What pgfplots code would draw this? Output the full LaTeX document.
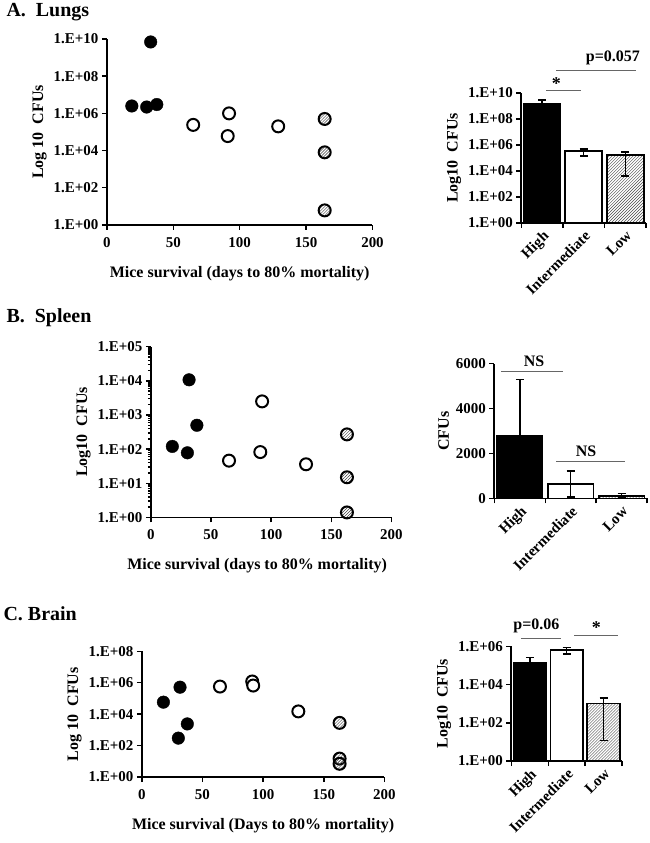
\documentclass[border=0pt]{standalone}
\usepackage{fontspec}
\setmainfont{Liberation Serif}
\usepackage{pgfplots}
\pgfplotsset{compat=1.18}
\usetikzlibrary{patterns}
\pgfdeclareplotmark{hcirc}{%
  \pgfpathcircle{\pgfpointorigin}{\pgfplotmarksize}%
  \pgfsetfillpattern{north east lines}{black!75}%
  \pgfusepathqfillstroke}
\newcommand{\fs}[1]{\fontsize{#1}{#1}\selectfont\bfseries}
\pgfplotsset{
  base/.style={
    scale only axis, anchor=south west, clip=false,
    axis x line=bottom, axis y line=left,
    axis line style={-, line width=1.8pt},
    tick align=outside, major tick length=5pt,
    tick style={line width=1.5pt, black},
    tick label style={font=\fs{15}},
    label style={font=\fs{16}},
  },
  scat/.style={base, xmin=0, xmax=200, xtick={0,50,100,150,200},
    xticklabels={0,50,100,150,200},
    xticklabel style={yshift=-4pt},
    xlabel style={yshift=-12pt}},
  barax/.style={base, xmin=-0.5, xmax=2.5, xtick={0,1,2},
    xticklabels={High,Intermediate,Low},
    minor xtick={-0.5,0.5,1.5,2.5}, minor tick length=5pt,
    major x tick style={draw=none},
    xticklabel style={rotate=45, anchor=north east, inner sep=1pt, font=\fs{15}},
    ybar, bar width=0.89, bar shift=0pt},
  hi/.style={only marks, mark=*, mark size=6.3pt, mark options={fill=black, draw=black}},
  mid/.style={only marks, mark=*, mark size=6pt, mark options={fill=white, draw=black, line width=2pt}},
  lo/.style={only marks, mark=hcirc, mark size=6pt, mark options={draw=black, line width=2pt}},
  eb/.style={error bars/.cd, y dir=both, y explicit,
    error bar style={line width=1.5pt, black},
    error mark options={rotate=90, mark size=4pt, line width=1.5pt, black}},
}
\tikzset{sig/.style={draw=black!60, line width=1pt}}
\begin{document}
\begin{tikzpicture}
\path (0pt,0pt) rectangle (650pt,843pt);
% ---------- titles
\node[anchor=west, font=\fs{20}] at (3pt,832pt) {A.\ \ Lungs};
\node[anchor=west, font=\fs{20}] at (3pt,526pt) {B.\ \ Spleen};
\node[anchor=west, font=\fs{20}] at (0pt,230pt) {C. Brain};
% ---------- A scatter
\begin{axis}[scat, at={(107pt,619pt)}, width=266pt, height=186pt,
  ymode=log, ymin=1, ymax=1e10,
  ytick={1,1e2,1e4,1e6,1e8,1e10},
  yticklabels={1.E+00,1.E+02,1.E+04,1.E+06,1.E+08,1.E+10},
  xlabel={Mice survival (days to 80\% mortality)}, ylabel={Log 10\ \ CFUs}]
\addplot[hi] coordinates {(18.8,2.5e6) (30,2.2e6) (37.6,3e6) (33,7e9)};
\addplot[mid] coordinates {(65,2.4e5) (92,1e6) (91,6e4) (129,2e5)};
\addplot[lo] coordinates {(164,5e5) (164,8e3) (164,6)};
\end{axis}
% ---------- A bars
\begin{axis}[barax, at={(522pt,621pt)}, width=125pt, height=130pt,
  ymode=log, ymin=1, ymax=1e10, ytick={1,1e2,1e4,1e6,1e8,1e10},
  yticklabels={1.E+00,1.E+02,1.E+04,1.E+06,1.E+08,1.E+10},
  ylabel={Log10\ \ CFUs}]
\addplot[fill=black, draw=black, line width=1.5pt, eb] coordinates {(0,1.4e9) += (0,1.5e9) -= (0,0.5e9)};
\addplot[fill=white, draw=black, line width=1.5pt, eb] coordinates {(1,3.5e5) += (0,1.5e5) -= (0,2.1e5)};
\addplot[pattern=north east lines, pattern color=black!70, draw=black, line width=1.5pt, eb] coordinates {(2,1.7e5) += (0,1.2e5) -= (0,1.66e5)};
\draw[sig] (axis cs:0.1,1.7e10) -- (axis cs:0.94,1.7e10);
\node[font=\fs{18}] at (axis cs:0.34,5e10) {*};
\draw[sig] (axis cs:0.34,5e11) -- (axis cs:2.26,5e11);
\node[font=\fs{16}] at (axis cs:1.7,5e12) {p=0.057};
\end{axis}
% ---------- B scatter
\begin{axis}[scat, at={(151pt,326pt)}, width=241pt, height=171pt,
  ymode=log, ymin=1, ymax=1e5,
  ytick={1,10,100,1e3,1e4,1e5},
  yticklabels={1.E+00,1.E+01,1.E+02,1.E+03,1.E+04,1.E+05},
  xlabel style={xshift=-14pt},
  xlabel={Mice survival (days to 80\% mortality)}, ylabel={Log10\ \ CFUs}]
\addplot[hi] coordinates {(17.9,120) (30.4,78) (31.8,1.07e4) (38.3,500)};
\addplot[mid] coordinates {(65,46) (92.5,2500) (91,82) (129,36)};
\addplot[lo] coordinates {(163,270) (163,15) (163,1.4)};
\end{axis}
% ---------- B bars
\begin{axis}[barax, at={(495pt,345pt)}, width=153pt, height=135pt,
  ymin=0, ymax=6000, ytick={0,2000,4000,6000},
  yticklabels={0,2000,4000,6000}, ylabel={CFUs}]
\addplot[fill=black, draw=black, line width=1.5pt, eb] coordinates {(0,2800) +- (0,2500)};
\addplot[fill=white, draw=black, line width=1.5pt, eb] coordinates {(1,650) +- (0,580)};
\addplot[pattern=north east lines, pattern color=black!70, draw=black, line width=1.5pt, eb] coordinates {(2,110) +- (0,100)};
\draw[sig] (axis cs:-0.36,5650) -- (axis cs:0.85,5650);
\node[font=\fs{16}, anchor=south] at (axis cs:0.28,5700) {NS};
\draw[sig] (axis cs:0.72,1650) -- (axis cs:2.07,1650);
\node[font=\fs{16}, anchor=south] at (axis cs:1.3,1700) {NS};
\end{axis}
% ---------- C scatter
\begin{axis}[scat, at={(142pt,66pt)}, width=243pt, height=126pt,
  ymode=log, ymin=1, ymax=1e8,
  ytick={1,1e2,1e4,1e6,1e8},
  yticklabels={1.E+00,1.E+02,1.E+04,1.E+06,1.E+08},
  xlabel={Mice survival (Days to 80\% mortality)}, ylabel={Log 10\ \ CFUs}]
\addplot[hi] coordinates {(17.8,5.8e4) (31.5,5.2e5) (37.5,2.4e3) (30.1,300)};
\addplot[mid] coordinates {(64.4,5.7e5) (91,1.2e6) (91.8,6.6e5) (129,1.5e4)};
\addplot[lo] coordinates {(163,2.8e3) (163,15) (163,7)};
\end{axis}
% ---------- C bars
\begin{axis}[barax, at={(512pt,82pt)}, width=111pt, height=115pt,
  ymode=log, ymin=1, ymax=1e6, ytick={1,1e2,1e4,1e6},
  yticklabels={1.E+00,1.E+02,1.E+04,1.E+06}, ylabel={Log10\ \ CFUs}]
\addplot[fill=black, draw=black, line width=1.5pt, eb] coordinates {(0,1.45e5) += (0,1.15e5) -= (0,0.5e5)};
\addplot[fill=white, draw=black, line width=1.5pt, eb] coordinates {(1,6.4e5) += (0,2.4e5) -= (0,2.4e5)};
\addplot[pattern=north east lines, pattern color=black!70, draw=black, line width=1.5pt, eb] coordinates {(2,1e3) += (0,1e3) -= (0,988)};
\draw[sig] (axis cs:-0.24,2.6e6) -- (axis cs:0.84,2.6e6);
\node[font=\fs{16}] at (axis cs:0.18,1.2e7) {p=0.06};
\draw[sig] (axis cs:1.2,3.7e6) -- (axis cs:2.4,3.7e6);
\node[font=\fs{18}] at (axis cs:1.8,1e7) {*};
\end{axis}
\end{tikzpicture}
\end{document}
